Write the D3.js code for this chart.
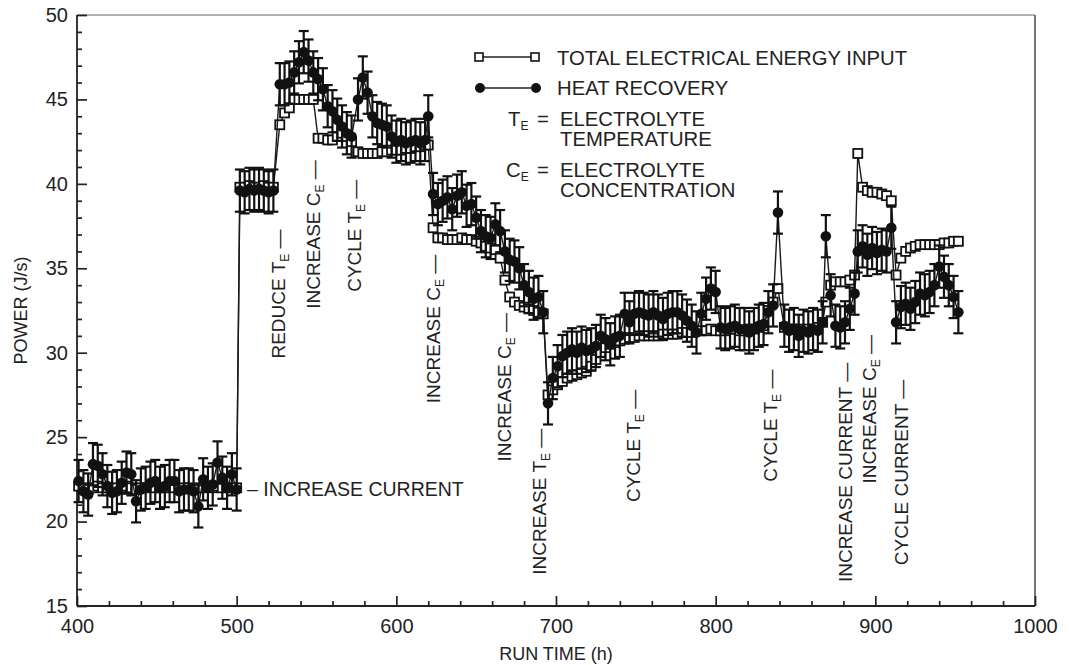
<!DOCTYPE html>
<html>
<head>
<meta charset="utf-8">
<script src="https://cdn.jsdelivr.net/npm/d3@7"></script>
<style>
  body { margin: 0; background: #fff; }
  svg text { font-family: "Liberation Sans", Arial, Helvetica, sans-serif; fill: #222; }
</style>
</head>
<body>
<svg id="chart" width="1069" height="665"></svg>
<script>
// Run time (h) of each reading
const hours = [
  401, 404, 407, 410, 413, 416, 419, 422, 425, 428, 431, 434, 437, 440, 443, 446, 449,
  452, 455, 458, 461, 464, 467, 470, 473, 476, 479, 482, 485, 488, 491, 494, 497, 500,
  502, 505, 508, 511, 514, 517, 520, 523,
  527, 530, 533, 536, 539, 542, 545, 548, 551, 554, 557, 560, 563, 566, 569, 572,
  576, 579, 582, 585, 588, 591, 594, 597, 600, 603, 606, 609, 612, 615, 618, 620,
  623, 626, 629, 632, 635, 638, 641, 644, 647, 650, 653, 656, 659, 662, 665, 668,
  671, 674, 677, 680, 683, 686, 689, 692, 695,
  698, 701, 704, 707, 710, 713, 716, 719, 722, 725, 728, 731, 734, 737, 740,
  743, 746, 749, 752, 755, 758, 761, 764, 767, 770, 773, 776, 779, 782, 785, 788,
  791, 794, 797, 800,
  803, 806, 809, 812, 815, 818, 821, 824, 827, 830, 833, 836, 839,
  843, 846, 849, 852, 855, 858, 861, 864, 867, 869, 872, 875, 878, 881, 884, 887,
  889, 892, 895, 898, 901, 904, 907, 910, 913, 916, 919, 922, 925, 928, 931, 934,
  937, 940, 943, 946, 949, 952
];

// Total electrical energy input (J/s), open squares
const inputPower = [
  22.1, 22.0, 21.9, 22.0, 22.1, 22.0, 22.0, 21.9, 22.0, 22.0, 22.1, 22.0, 21.9, 22.0, 22.0, 22.1, 22.0,
  22.0, 22.0, 22.1, 22.0, 21.9, 22.0, 22.0, 21.9, 22.0, 22.0, 22.1, 22.0, 22.1, 22.0, 22.0, 22.0, 22.0,
  39.8, 39.8, 39.9, 39.8, 39.8, 39.9, 39.8, 39.8,
  43.5, 44.2, 44.5, 45.0, 45.0, 45.0, 45.0, 45.0, 42.7, 42.7, 42.6, 42.6, 42.8, 43.0, 42.8, 42.5,
  41.9, 41.8, 41.8, 41.8, 41.8, 41.9, 41.9, 42.0, 42.0, 42.0, 42.1, 42.1, 42.2, 42.2, 42.3, 42.3,
  37.4, 36.8, 36.8, 36.7, 36.7, 36.7, 36.8, 36.7, 36.7, 36.6, 36.5, 36.3, 36.2, 36.1, 35.6, 34.3,
  33.3, 33.0, 32.8, 32.7, 32.6, 32.5, 32.4, 32.3, 27.5,
  27.8, 28.1, 28.3, 28.5, 28.6, 28.7, 28.8, 28.9, 29.2, 29.6, 30.0, 30.3, 30.5, 30.6, 30.7,
  30.8, 30.9, 30.9, 31.0, 31.0, 31.0, 31.0, 31.0, 31.1, 31.1, 31.1, 31.1, 31.2, 31.2, 31.2, 31.3,
  31.3, 31.3, 31.4, 31.3,
  31.3, 31.3, 31.4, 31.4, 31.3, 31.3, 31.4, 31.4, 31.5, 31.6, 32.5, 33.0, 33.8,
  31.5, 31.4, 31.4, 31.4, 31.3, 31.4, 31.4, 31.5, 31.8, 33.0, 34.0, 34.2, 34.2, 34.2, 34.3, 34.6,
  41.8, 39.8, 39.6, 39.5, 39.5, 39.4, 39.3, 39.0, 34.6, 35.6, 36.0, 36.2, 36.3, 36.4, 36.4, 36.4,
  36.4, 36.4, 36.5, 36.5, 36.6, 36.6
];

// Heat recovery (J/s), filled circles with error bars
const heatRecovery = [
  22.4, 21.8, 21.6, 23.4, 23.3, 22.8, 22.1, 21.7, 21.8, 22.3, 22.9, 22.8, 21.2, 21.9, 22.0, 22.3, 22.4,
  22.0, 22.1, 22.4, 22.4, 21.8, 21.9, 21.9, 21.8, 20.9, 22.5, 22.0, 22.2, 23.5, 22.6, 22.0, 22.8, 21.9,
  39.6, 39.5, 39.7, 39.6, 39.7, 39.6, 39.5, 39.6,
  45.9, 45.9, 46.0, 46.6, 47.2, 47.8, 47.3, 46.6, 46.2, 45.6, 44.6, 44.3, 43.8, 43.4, 43.0, 42.8,
  45.0, 46.3, 45.4, 44.0, 43.6, 43.5, 43.4, 42.8, 42.5, 42.6, 42.4, 42.5, 42.6, 42.4, 42.6, 44.0,
  39.4, 38.8, 39.0, 39.2, 38.5, 39.3, 39.5, 38.7, 38.8, 38.0, 37.2, 36.9, 36.8, 37.6, 37.2, 36.0,
  35.5, 35.4, 35.0, 34.0, 33.6, 33.2, 33.3, 32.4, 27.0,
  28.5, 29.2, 29.8, 30.0, 30.2, 30.0, 30.3, 30.1, 30.2, 30.4, 31.0, 30.8, 30.5, 30.9, 31.0,
  32.3, 31.8, 32.3, 32.4, 32.3, 32.2, 32.4, 32.2, 32.0, 32.3, 32.4, 32.4, 32.2, 31.9, 31.6, 31.2,
  32.3, 33.2, 33.8, 33.6,
  31.5, 31.4, 31.5, 31.6, 31.4, 31.4, 31.2, 31.4, 31.6, 31.7, 32.4, 32.8, 38.3,
  31.6, 31.3, 31.4, 31.0, 31.3, 31.2, 31.4, 31.3, 31.8, 36.9, 33.4, 31.6, 31.5, 31.8, 32.6, 33.5,
  36.0, 36.3, 35.8, 36.2, 35.9, 36.1, 36.0, 37.4, 31.8, 32.7, 32.9, 32.6, 33.0, 33.5, 33.4, 33.6,
  34.0, 35.1, 34.5, 34.0, 33.3, 32.4
];
const heatError = 1.25; // half height of the error bars (J/s)

// axis ticks
const xTicks = [400, 500, 600, 700, 800, 900, 1000];
const yTicks = [15, 20, 25, 30, 35, 40, 45, 50];

// event notes written upward along the curve
const noteText  = ['REDUCE T', 'INCREASE C', 'CYCLE T', 'INCREASE C', 'INCREASE C', 'INCREASE T',
                   'CYCLE T', 'CYCLE T', 'INCREASE CURRENT', 'INCREASE C', 'CYCLE CURRENT'];
const noteSub   = ['E', 'E', 'E', 'E', 'E', 'E', 'E', 'E', '', 'E', ''];
const noteHour  = [530.3, 552.2, 577.9, 627.3, 671.8, 693.7, 752.6, 838.4, 885.4, 900.5, 920.5];
const notePower = [37.3, 41.4, 40.25, 35.8, 32.35, 25.5, 27.8, 29.0, 29.4, 31.05, 28.4];

if (hours.length != inputPower.length || hours.length != heatRecovery.length) {
  console.error('series length mismatch', hours.length, inputPower.length, heatRecovery.length);
}

var svg = d3.select('#chart');
var plotL = 77, plotR = 1035, plotT = 15, plotB = 606;

var x = d3.scaleLinear().domain([400, 1000]).range([plotL, plotR]);
var y = d3.scaleLinear().domain([15, 50]).range([plotB, plotT]);

var points = hours.map(function(h, i) {
  return {hour: h, input: inputPower[i], heat: heatRecovery[i]};
});

// frame
svg.append('line').attr('x1', plotL).attr('x2', plotR).attr('y1', plotT).attr('y2', plotT)
  .attr('stroke', '#999').attr('stroke-width', 1.3);
svg.append('line').attr('x1', plotR).attr('x2', plotR).attr('y1', plotT).attr('y2', plotB)
  .attr('stroke', '#555').attr('stroke-width', 1.6);

// minor ticks
var xMinor = d3.range(420, 1000, 20).filter(function(d) { return d % 100 != 0; });
var yMinor = d3.range(16, 50, 1).filter(function(d) { return d % 5 != 0; });

svg.append('g')
  .attr('transform', 'translate(0,' + plotB + ')')
  .call(d3.axisBottom(x).tickValues(xMinor).tickSize(-5).tickFormat(''));
svg.append('g')
  .attr('transform', 'translate(' + plotL + ',0)')
  .call(d3.axisLeft(y).tickValues(yMinor).tickSize(-5).tickFormat(''));

// major ticks + labels
svg.append('g')
  .attr('transform', 'translate(0,' + plotB + ')')
  .call(d3.axisBottom(x).tickValues(xTicks).tickSize(-10).tickPadding(13).tickFormat(d3.format('d')));
svg.append('g')
  .attr('transform', 'translate(' + plotL + ',0)')
  .call(d3.axisLeft(y).tickValues(yTicks).tickSize(-10).tickPadding(9).tickFormat(d3.format('d')));

svg.selectAll('.domain').remove();
svg.selectAll('.tick line').attr('stroke', '#222').attr('stroke-width', 1.7);
svg.selectAll('.tick text').style('font-size', '20px').attr('fill', '#2a2a2a');

// left and bottom axis lines
svg.append('line').attr('x1', plotL).attr('x2', plotL).attr('y1', plotT).attr('y2', plotB)
  .attr('stroke', '#222').attr('stroke-width', 1.8);
svg.append('line').attr('x1', plotL).attr('x2', plotR).attr('y1', plotB).attr('y2', plotB)
  .attr('stroke', '#222').attr('stroke-width', 1.8);

// axis titles
svg.append('text')
  .attr('transform', 'translate(27,' + ((plotT + plotB) / 2) + ') rotate(-90)')
  .attr('text-anchor', 'middle')
  .style('font-size', '18px')
  .text('POWER (J/s)');
svg.append('text')
  .attr('x', (plotL + plotR) / 2)
  .attr('y', 660)
  .attr('text-anchor', 'middle')
  .style('font-size', '18px')
  .text('RUN TIME (h)');

// electrical input: line + open squares
var inputLine = d3.line().x(function(d) { return x(d.hour); }).y(function(d) { return y(d.input); });
svg.append('path').datum(points)
  .attr('d', inputLine).attr('fill', 'none').attr('stroke', '#1a1a1a').attr('stroke-width', 1.4);
svg.append('g').selectAll('rect')
  .data(points).enter().append('rect')
  .attr('x', function(d) { return x(d.hour) - 4.5; })
  .attr('y', function(d) { return y(d.input) - 4.5; })
  .attr('width', 9).attr('height', 9)
  .attr('fill', '#fff').attr('stroke', '#111').attr('stroke-width', 1.8);

// heat recovery: line, error bars, filled circles
var heatLine = d3.line().x(function(d) { return x(d.hour); }).y(function(d) { return y(d.heat); });
svg.append('path').datum(points)
  .attr('d', heatLine).attr('fill', 'none').attr('stroke', '#1a1a1a').attr('stroke-width', 1.4);

var bars = svg.append('g').attr('stroke', '#111').attr('stroke-width', 2.2);
bars.selectAll('.bar').data(points).enter().append('line')
  .attr('x1', function(d) { return x(d.hour); })
  .attr('x2', function(d) { return x(d.hour); })
  .attr('y1', function(d) { return y(d.heat - heatError); })
  .attr('y2', function(d) { return y(d.heat + heatError); });
bars.selectAll('.capTop').data(points).enter().append('line')
  .attr('x1', function(d) { return x(d.hour) - 5; })
  .attr('x2', function(d) { return x(d.hour) + 5; })
  .attr('y1', function(d) { return y(d.heat + heatError); })
  .attr('y2', function(d) { return y(d.heat + heatError); });
bars.selectAll('.capBot').data(points).enter().append('line')
  .attr('x1', function(d) { return x(d.hour) - 5; })
  .attr('x2', function(d) { return x(d.hour) + 5; })
  .attr('y1', function(d) { return y(d.heat - heatError); })
  .attr('y2', function(d) { return y(d.heat - heatError); });

svg.append('g').selectAll('circle')
  .data(points).enter().append('circle')
  .attr('cx', function(d) { return x(d.hour); })
  .attr('cy', function(d) { return y(d.heat); })
  .attr('r', 5.3)
  .attr('fill', '#111');

// notes
noteText.forEach(function(t, i) {
  var txt = svg.append('text')
    .attr('transform', 'translate(' + x(noteHour[i]) + ',' + y(notePower[i]) + ') rotate(-90)')
    .attr('text-anchor', 'end')
    .style('font-size', '19px');
  txt.append('tspan').text(t);
  if (noteSub[i]) {
    txt.append('tspan').attr('dy', 4).style('font-size', '12px').text(noteSub[i]);
    txt.append('tspan').attr('dy', -4).text(' \u2014');
  } else {
    txt.append('tspan').text(' \u2014');
  }
});

svg.append('text')
  .attr('x', x(506.5)).attr('y', y(21.5))
  .style('font-size', '19.5px')
  .text('\u2013 INCREASE CURRENT');

// legend
var lg = svg.append('g');
var legendSize = '20.3px';
lg.append('line').attr('x1', 483).attr('x2', 531).attr('y1', 57).attr('y2', 57)
  .attr('stroke', '#222').attr('stroke-width', 1.4);
[479, 535].forEach(function(cx) {
  lg.append('rect').attr('x', cx - 4).attr('y', 53).attr('width', 8).attr('height', 8)
    .attr('fill', '#fff').attr('stroke', '#111').attr('stroke-width', 1.6);
});
lg.append('text').attr('x', 557).attr('y', 65).style('font-size', legendSize)
  .text('TOTAL ELECTRICAL ENERGY INPUT');

lg.append('line').attr('x1', 483).attr('x2', 531).attr('y1', 88).attr('y2', 88)
  .attr('stroke', '#222').attr('stroke-width', 1.4);
[480, 536].forEach(function(cx) {
  lg.append('circle').attr('cx', cx).attr('cy', 88).attr('r', 5).attr('fill', '#111');
});
lg.append('text').attr('x', 557).attr('y', 95).style('font-size', legendSize)
  .text('HEAT RECOVERY');

var defs = [['T', 508, 126, 'ELECTROLYTE', 'TEMPERATURE', 146],
            ['C', 506, 177, 'ELECTROLYTE', 'CONCENTRATION', 197]];
defs.forEach(function(r) {
  var s = lg.append('text').attr('x', r[1]).attr('y', r[2]).style('font-size', legendSize);
  s.append('tspan').text(r[0]);
  s.append('tspan').attr('dy', 4).style('font-size', '12px').text('E');
  lg.append('text').attr('x', 537).attr('y', r[2]).style('font-size', legendSize).text('=');
  lg.append('text').attr('x', 560).attr('y', r[2]).style('font-size', legendSize).text(r[3]);
  lg.append('text').attr('x', 560).attr('y', r[5]).style('font-size', legendSize).text(r[4]);
});
</script>
</body>
</html>
